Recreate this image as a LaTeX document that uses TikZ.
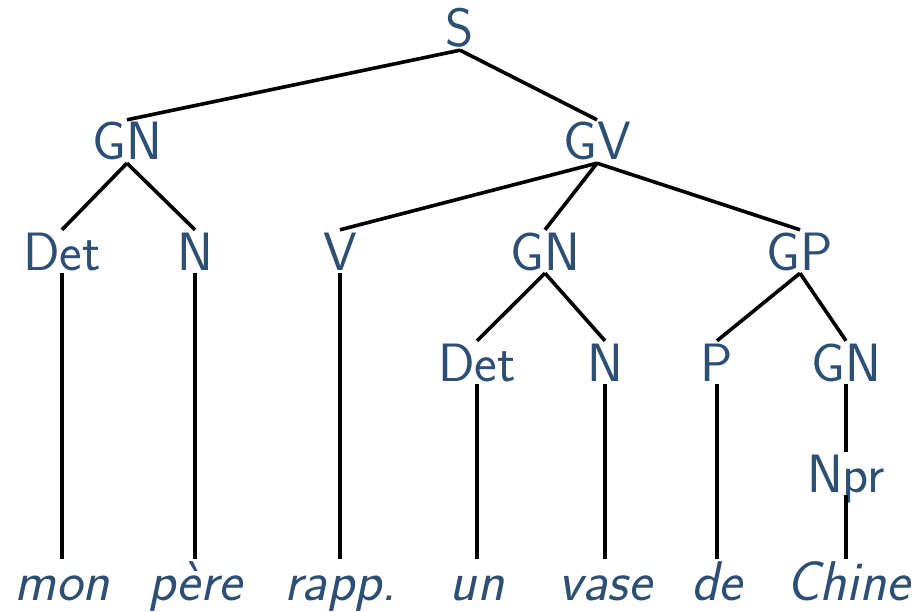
\documentclass[tikz,border=0pt]{standalone}
\usepackage{fontspec}
\definecolor{nodeblue}{RGB}{44,79,115}
\begin{document}
\begin{tikzpicture}[x=1pt,y=-1pt,
  lab/.style={font=\sffamily\fontsize{54}{58}\selectfont, text=nodeblue, anchor=base,
    inner xsep=0pt, inner ysep=3pt, text height=37pt, text depth=0pt},
  leaf/.style={font=\sffamily\itshape\fontsize{56}{60}\selectfont, text=nodeblue, anchor=base,
    inner xsep=0pt, inner ysep=3pt, text height=38pt, text depth=12pt},
  edge/.style={line width=3.6pt, black}]
\useasboundingbox (0,0) rectangle (917,612);
% row 0
\node[lab] (S) at (460,47) {S};
% row 1
\node[lab] (GN) at (127,160) {GN};
\node[lab] (GV) at (597,160) {GV};
% row 2
\node[lab] (Det) at (62,270) {Det};
\node[lab] (N) at (195,270) {N};
\node[lab] (V) at (340,270) {V};
\node[lab] (GNb) at (545,270) {GN};
\node[lab] (GP) at (800,270) {GP};
% row 3
\node[lab] (Detb) at (477,381) {Det};
\node[lab] (Nb) at (605,381) {N};
\node[lab] (P) at (717,381) {P};
\node[lab] (GNc) at (846,381) {GN};
% row 4
\node[lab] (Npr) at (846,492) {Npr};
% leaves
\node[leaf] (mon) at (62,600) {mon};
\node[leaf] (pere) at (195,600) {père};
\node[leaf] (rapp) at (340,600) {rapp.};
\node[leaf] (un) at (477,600) {un};
\node[leaf] (vase) at (605,600) {vase};
\node[leaf] (de) at (717,600) {de};
\node[leaf] (Chine) at (848,600) {Chine};
% edges
\draw[edge] (S.south) -- (GN.north);
\draw[edge] (S.south) -- (GV.north);
\draw[edge] (GN.south) -- (Det.north);
\draw[edge] (GN.south) -- (N.north);
\draw[edge] (GV.south) -- (V.north);
\draw[edge] (GV.south) -- (GNb.north);
\draw[edge] (GV.south) -- (GP.north);
\draw[edge] (GNb.south) -- (Detb.north);
\draw[edge] (GNb.south) -- (Nb.north);
\draw[edge] (GP.south) -- (P.north);
\draw[edge] (GP.south) -- (GNc.north);
\draw[edge] (GNc.south) -- (Npr.north);
\draw[edge] (Det.south) -- (mon.north);
\draw[edge] (N.south) -- (pere.north);
\draw[edge] (V.south) -- (rapp.north);
\draw[edge] (Detb.south) -- (un.north);
\draw[edge] (Nb.south) -- (vase.north);
\draw[edge] (P.south) -- (de.north);
\draw[edge] (Npr.south) -- (Chine.north-|Npr.south);
\end{tikzpicture}
\end{document}
